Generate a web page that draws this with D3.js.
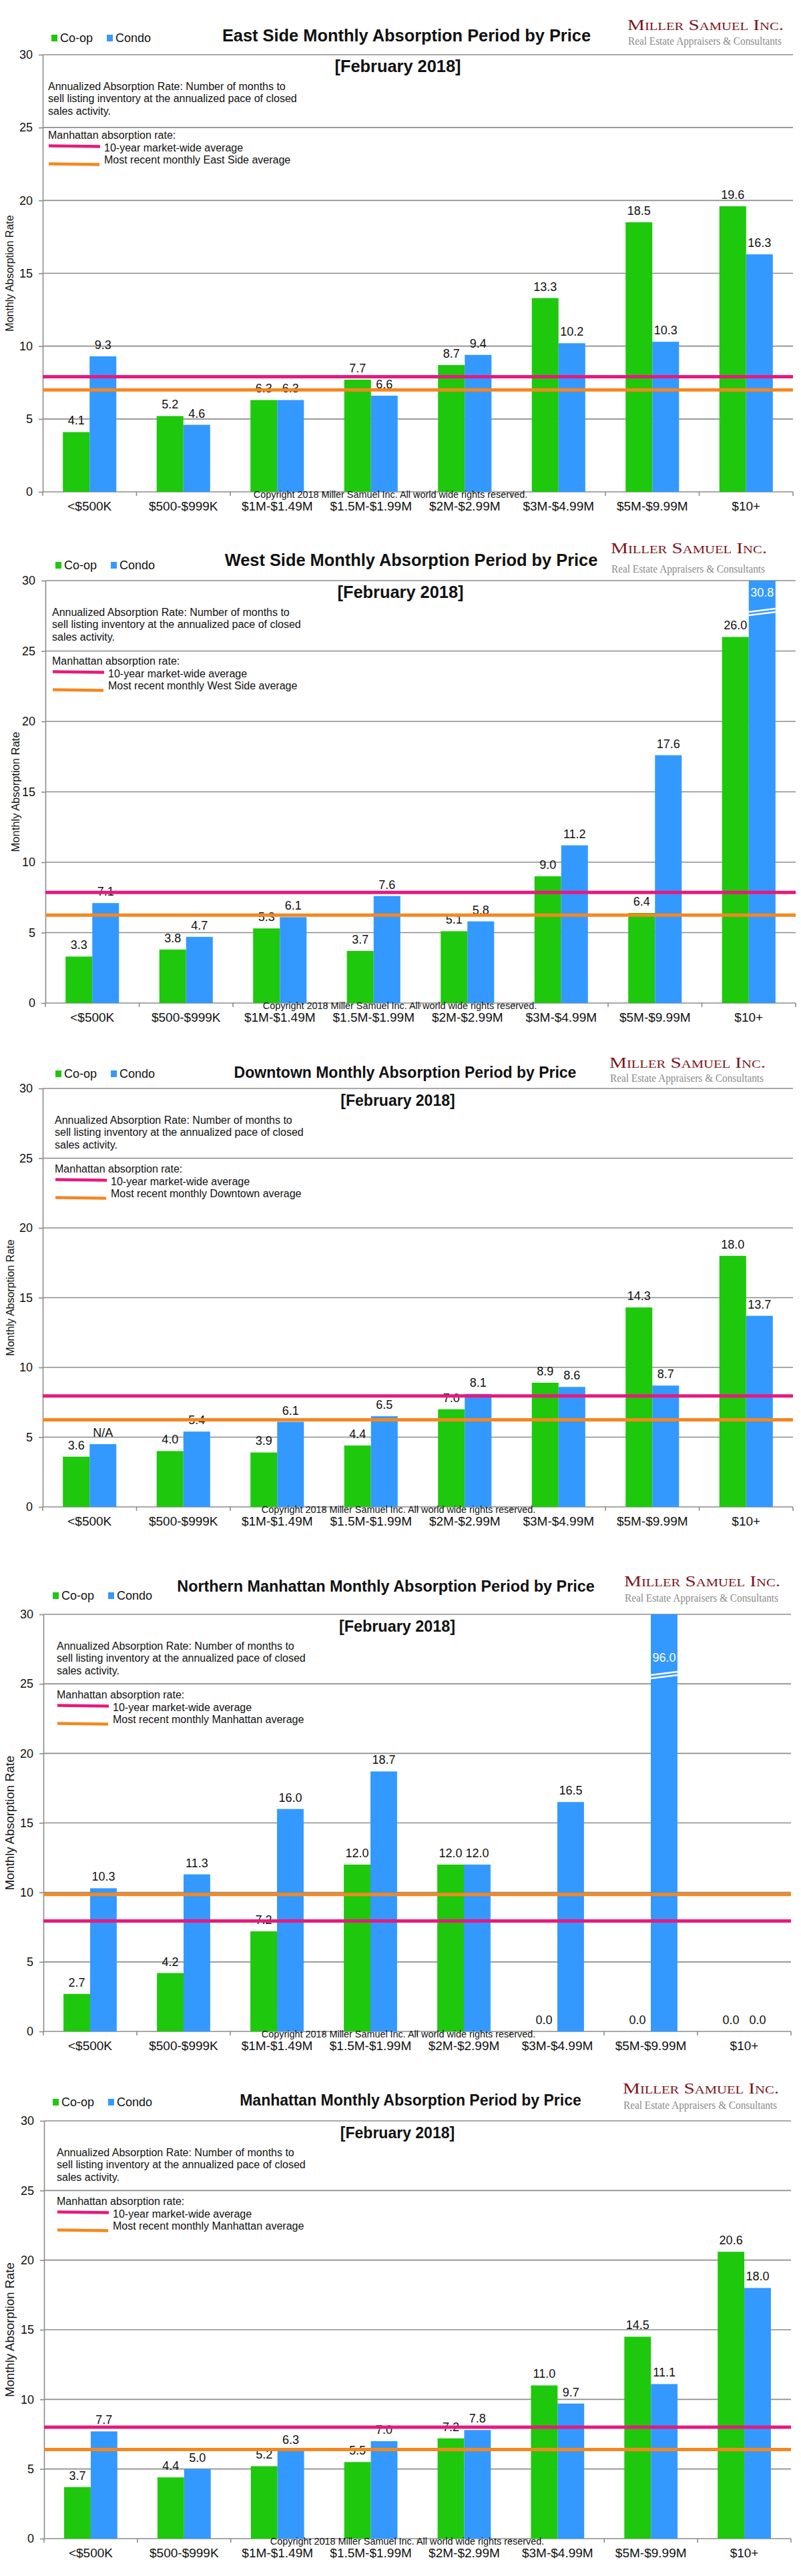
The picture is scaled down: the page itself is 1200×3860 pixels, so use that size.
<!DOCTYPE html>
<html>
<head>
<meta charset="utf-8">
<script src="https://cdn.jsdelivr.net/npm/d3@7"></script>
<style>
  body { margin: 0; background: #fff; }
  svg { display: block; font-family: "Liberation Sans", Arial, sans-serif; }
</style>
</head>
<body>
<svg id="chart" width="1200" height="3860"></svg>
<script>
// price bands (x axis)
const categories = ["<$500K", "$500-$999K", "$1M-$1.49M", "$1.5M-$1.99M", "$2M-$2.99M", "$3M-$4.99M", "$5M-$9.99M", "$10+"];
const yTicks = [0, 5, 10, 15, 20, 25, 30];

const regions = ["East Side", "West Side", "Downtown", "Northern Manhattan", "Manhattan"];
const recentNames = ["East Side", "West Side", "Downtown", "Manhattan", "Manhattan"];

// monthly absorption rate, February 2018
const coopEast = [4.1, 5.2, 6.3, 7.7, 8.7, 13.3, 18.5, 19.6];
const condoEast = [9.3, 4.6, 6.3, 6.6, 9.4, 10.2, 10.3, 16.3];
const coopWest = [3.3, 3.8, 5.3, 3.7, 5.1, 9.0, 6.4, 26.0];
const condoWest = [7.1, 4.7, 6.1, 7.6, 5.8, 11.2, 17.6, 30.8];
const coopDowntown = [3.6, 4.0, 3.9, 4.4, 7.0, 8.9, 14.3, 18.0];
const condoDowntown = [4.5, 5.4, 6.1, 6.5, 8.1, 8.6, 8.7, 13.7];
const condoDowntownText = ["N/A", null, null, null, null, null, null, null];
const coopNorthern = [2.7, 4.2, 7.2, 12.0, 12.0, 0.0, 0.0, 0.0];
const condoNorthern = [10.3, 11.3, 16.0, 18.7, 12.0, 16.5, 96.0, 0.0];
const coopManhattan = [3.7, 4.4, 5.2, 5.5, 7.2, 11.0, 14.5, 20.6];
const condoManhattan = [7.7, 5.0, 6.3, 7.0, 7.8, 9.7, 11.1, 18.0];

// reference lines
const tenYearAverage = [7.9, 7.85, 7.95, 7.95, 8.0];
const recentAverage = [7.0, 6.25, 6.25, 9.85, 6.4];

const coopSeries = [coopEast, coopWest, coopDowntown, coopNorthern, coopManhattan];
const condoSeries = [condoEast, condoWest, condoDowntown, condoNorthern, condoManhattan];
const condoText = [null, null, condoDowntownText, null, null];

// page layout for each of the five stacked charts
const layout = [
  {top: 82, bottom: 737, left: 64, right: 1188, titleX: 609, titleY: 62, titleSize: 25.4, legendX: 77, legendY: 63, logoX: 940, logoY: 45, tagY: 67, annX: 72, yTitleX: 14, yTitleSize: 16, copyX: 585, breakAt: [24, 45]},
  {top: 870, bottom: 1503, left: 68, right: 1192, titleX: 616, titleY: 848, titleSize: 25.4, legendX: 83, legendY: 853, logoX: 915, logoY: 829, tagY: 858, annX: 78, yTitleX: 23, yTitleSize: 16.5, copyX: 599, breakAt: [24, 45]},
  {top: 1631, bottom: 2258, left: 64, right: 1188, titleX: 607, titleY: 1615, titleSize: 23, legendX: 83, legendY: 1615, logoX: 913, logoY: 1600, tagY: 1621, annX: 82, yTitleX: 15, yTitleSize: 16, copyX: 597, breakAt: [24, 45]},
  {top: 2419, bottom: 3044, left: 65, right: 1185, titleX: 578, titleY: 2385, titleSize: 23.4, legendX: 79, legendY: 2397, logoX: 935, logoY: 2377, tagY: 2400, annX: 85, yTitleX: 15, yTitleSize: 18.5, copyX: 597, breakAt: [71, 89]},
  {top: 3178, bottom: 3804, left: 66, right: 1185, titleX: 615, titleY: 3155, titleSize: 23, legendX: 79, legendY: 3156, logoX: 933, logoY: 3137, tagY: 3160, annX: 85, yTitleX: 15, yTitleSize: 18.5, copyX: 610, breakAt: [24, 45]}
];

const GREEN = "#1ec80c", BLUE = "#3399ff", PINK = "#e8197d", ORANGE = "#f5871f", GRID = "#8c8c8c";

const svg = d3.select("#chart");
svg.append("rect").attr("width", 1200).attr("height", 3860).attr("fill", "#fff");

regions.forEach((region, i) => drawChart(region, i));

function drawChart(region, i) {
  const L = layout[i];
  const g = svg.append("g");
  const y = d3.scaleLinear().domain([0, 30]).range([L.bottom, L.top]);
  const x0 = d3.scaleBand().domain(categories).range([L.left, L.right]).paddingInner(0.43).paddingOuter(0.215);
  const x1 = d3.scaleBand().domain(["coop", "condo"]).range([0, x0.bandwidth()]);
  const bound = d3.scaleLinear().domain([0, categories.length]).range([L.left, L.right]);

  // gridlines
  g.append("g").selectAll("line")
    .data(yTicks)
    .join("line")
    .attr("x1", L.left).attr("x2", L.right)
    .attr("y1", d => y(d)).attr("y2", d => y(d))
    .attr("stroke", GRID).attr("stroke-width", 1.6);

  // y axis
  const yAxis = g.append("g")
    .attr("transform", `translate(${L.left},0)`)
    .call(d3.axisLeft(y).tickValues(yTicks).tickSize(6).tickSizeOuter(0).tickPadding(9));
  yAxis.select(".domain").attr("stroke", GRID).attr("stroke-width", 1.6);
  yAxis.selectAll(".tick line").attr("stroke", GRID).attr("stroke-width", 1.6);
  yAxis.selectAll("text").attr("font-size", 18).attr("fill", "#111").attr("font-family", "Liberation Sans, Arial");

  // x axis: labels under bands, ticks on band boundaries
  const xAxis = g.append("g")
    .attr("transform", `translate(0,${L.bottom})`)
    .call(d3.axisBottom(x0).tickSize(0).tickPadding(14.5));
  xAxis.select(".domain").remove();
  xAxis.selectAll("text").attr("font-size", 19).attr("fill", "#111").attr("font-family", "Liberation Sans, Arial");
  g.append("g").selectAll("line")
    .data(d3.range(categories.length + 1))
    .join("line")
    .attr("x1", d => bound(d)).attr("x2", d => bound(d))
    .attr("y1", L.bottom).attr("y2", L.bottom + 6)
    .attr("stroke", GRID).attr("stroke-width", 1.6);

  // bars
  const rows = categories.map((c, k) => ({
    cat: c,
    vals: [
      {key: "coop", v: coopSeries[i][k], text: null},
      {key: "condo", v: condoSeries[i][k], text: condoText[i] ? condoText[i][k] : null}
    ]
  }));
  const groups = g.append("g").selectAll("g")
    .data(rows)
    .join("g")
    .attr("transform", d => `translate(${x0(d.cat)},0)`);

  groups.selectAll("rect")
    .data(d => d.vals)
    .join("rect")
    .attr("x", d => x1(d.key))
    .attr("width", x1.bandwidth())
    .attr("y", d => y(Math.min(d.v, 30)))
    .attr("height", d => y(0) - y(Math.min(d.v, 30)))
    .attr("fill", d => d.key === "coop" ? GREEN : BLUE);

  // broken bars for values above the axis maximum
  const over = groups.selectAll("g.brk")
    .data(d => d.vals.filter(v => v.v > 30))
    .join("g").attr("class", "brk");
  over.append("path")
    .attr("d", d => {
      const xa = x1(d.key), xb = xa + x1.bandwidth(), yb = y(30) + L.breakAt[1];
      return `M${xa},${yb + 2}L${xb},${yb - 3}M${xa},${yb + 7}L${xb},${yb + 2}`;
    })
    .attr("stroke", "#fff").attr("stroke-width", 2.4).attr("fill", "none");

  // value labels
  groups.selectAll("text.val")
    .data(d => d.vals)
    .join("text")
    .attr("class", "val")
    .attr("x", d => x1(d.key) + x1.bandwidth() / 2)
    .attr("y", d => d.v > 30 ? y(30) + L.breakAt[0] : y(d.v) - 11)
    .attr("text-anchor", "middle")
    .attr("font-size", 18)
    .attr("fill", d => d.v > 30 ? "#fff" : "#111")
    .text(d => d.text || d3.format(".1f")(d.v));

  // average lines
  g.append("line")
    .attr("x1", L.left).attr("x2", L.right)
    .attr("y1", y(tenYearAverage[i])).attr("y2", y(tenYearAverage[i]))
    .attr("stroke", PINK).attr("stroke-width", 5);
  g.append("line")
    .attr("x1", L.left).attr("x2", L.right)
    .attr("y1", y(recentAverage[i])).attr("y2", y(recentAverage[i]))
    .attr("stroke", ORANGE).attr("stroke-width", 5);

  // title, subtitle
  g.append("text")
    .attr("x", L.titleX).attr("y", L.titleY)
    .attr("text-anchor", "middle")
    .attr("font-size", L.titleSize).attr("font-weight", "bold").attr("fill", "#111")
    .text(`${region} Monthly Absorption Period by Price`);
  g.append("text")
    .attr("x", (L.left + L.right) / 2 - 30).attr("y", L.top + 26)
    .attr("text-anchor", "middle")
    .attr("font-size", L.titleSize).attr("font-weight", "bold").attr("fill", "#111")
    .text("[February 2018]");

  // legend
  const leg = g.append("g").attr("transform", `translate(${L.legendX},${L.legendY})`);
  [["Co-op", GREEN, 0], ["Condo", BLUE, 83]].forEach(([name, col, dx]) => {
    leg.append("rect").attr("x", dx).attr("y", -11).attr("width", 9).attr("height", 10).attr("fill", col);
    leg.append("text").attr("x", dx + 13).attr("y", 0).attr("font-size", 18).attr("fill", "#111").text(name);
  });

  // notes
  const notes = ["Annualized Absorption Rate: Number of months to",
                 "sell listing inventory at the annualized pace of closed",
                 "sales activity."];
  g.append("g").selectAll("text")
    .data(notes)
    .join("text")
    .attr("x", L.annX)
    .attr("y", (d, k) => L.top + 53 + k * 18.3)
    .attr("font-size", 16).attr("fill", "#111")
    .text(d => d);
  g.append("text").attr("x", L.annX).attr("y", L.top + 126).attr("font-size", 16).attr("fill", "#111")
    .text("Manhattan absorption rate:");
  g.append("line").attr("x1", L.annX + 1).attr("x2", L.annX + 78)
    .attr("y1", L.top + 136.5).attr("y2", L.top + 137.5)
    .attr("stroke", PINK).attr("stroke-width", 4.5);
  g.append("text").attr("x", L.annX + 84).attr("y", L.top + 145).attr("font-size", 16).attr("fill", "#111")
    .text("10-year market-wide average");
  g.append("line").attr("x1", L.annX + 1).attr("x2", L.annX + 77)
    .attr("y1", L.top + 163.5).attr("y2", L.top + 164.5)
    .attr("stroke", ORANGE).attr("stroke-width", 4.5);
  g.append("text").attr("x", L.annX + 84).attr("y", L.top + 163).attr("font-size", 16).attr("fill", "#111")
    .text(`Most recent monthly ${recentNames[i]} average`);

  // y axis title
  g.append("text")
    .attr("transform", `translate(${L.yTitleX},${(L.top + L.bottom) / 2}) rotate(-90)`)
    .attr("text-anchor", "middle").attr("dy", "0.35em")
    .attr("font-size", L.yTitleSize).attr("fill", "#111")
    .text("Monthly Absorption Rate");

  // copyright
  g.append("text")
    .attr("x", L.copyX).attr("y", L.bottom + 9)
    .attr("text-anchor", "middle")
    .attr("font-size", 14.4).attr("fill", "#111")
    .text("Copyright 2018 Miller Samuel Inc.  All world wide rights reserved.");

  // logo
  g.append("text")
    .attr("x", L.logoX).attr("y", L.logoY)
    .attr("font-family", "Liberation Serif, Times New Roman, serif")
    .attr("font-size", 24).attr("font-variant", "small-caps").attr("fill", "#7b1520")
    .attr("textLength", 234).attr("lengthAdjust", "spacingAndGlyphs")
    .text("Miller Samuel Inc.");
  g.append("text")
    .attr("x", L.logoX + 1).attr("y", L.tagY)
    .attr("font-family", "Liberation Serif, Times New Roman, serif")
    .attr("font-size", 16).attr("fill", "#8a8a8a")
    .attr("textLength", 230).attr("lengthAdjust", "spacingAndGlyphs")
    .text("Real Estate Appraisers & Consultants");
}
</script>
</body>
</html>
